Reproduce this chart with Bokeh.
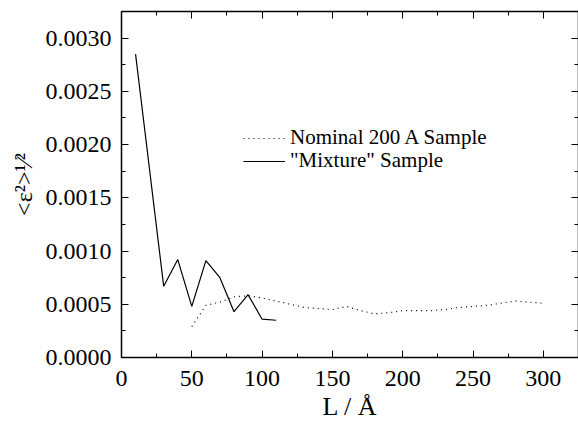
from bokeh.plotting import figure
from bokeh.models import (LinearAxis, SingleIntervalTicker, NumeralTickFormatter,
                          Range1d, Legend, LegendItem)
from bokeh.embed import file_html
from bokeh.resources import INLINE

# ---- data ----
mixture_L = [10, 30, 40, 50, 60, 70, 80, 90, 100, 110]
mixture_e = [0.00285, 0.00067, 0.00092, 0.00048, 0.00091, 0.00075, 0.00043,
             0.00059, 0.00036, 0.00035]

nominal_L = [50, 60, 70, 80, 90, 100, 110, 120, 130, 140, 150, 160, 170, 180,
             190, 200, 210, 220, 230, 240, 250, 260, 270, 280, 290, 300]
nominal_e = [0.00029, 0.00049, 0.00052, 0.00057, 0.00058, 0.00056, 0.00053,
             0.00050, 0.00047, 0.00046, 0.00045, 0.00048, 0.00044, 0.00041,
             0.00042, 0.00044, 0.00044, 0.00044, 0.00045, 0.00047, 0.00048,
             0.00049, 0.00051, 0.00053, 0.00052, 0.00051]

legend_labels = ["Nominal 200 A Sample", "\"Mixture\" Sample"]
x_label = "L / Å"
y_label = "<ε²>¹⁄²"

FONT = "Liberation Serif"

X_MAX, Y_MAX = 325, 0.00325
W, H = 578, 423

p = figure(width=W, height=H, output_backend="svg", toolbar_location=None,
           x_range=Range1d(0, X_MAX), y_range=Range1d(0, Y_MAX),
           min_border_left=121, min_border_right=0,
           min_border_top=11, min_border_bottom=66)
p.grid.visible = False
p.outline_line_color = None
p.background_fill_color = "white"
p.border_fill_color = "white"

bottom = p.below[0]
left = p.left[0]
bottom.ticker = SingleIntervalTicker(interval=50, num_minor_ticks=2)
left.ticker = SingleIntervalTicker(interval=0.0005, num_minor_ticks=2)
left.formatter = NumeralTickFormatter(format="0.0000")
bottom.axis_label = x_label
left.axis_label = y_label

top = LinearAxis(ticker=SingleIntervalTicker(interval=50, num_minor_ticks=2))
right = LinearAxis(ticker=SingleIntervalTicker(interval=0.0005, num_minor_ticks=2))
p.add_layout(top, "above")
p.add_layout(right, "right")

for ax in [bottom, left, top, right]:
    ax.axis_line_width = 1.5
    ax.axis_line_color = "black"
    ax.major_tick_in = 7
    ax.major_tick_out = 0
    ax.minor_tick_in = 4
    ax.minor_tick_out = 0
    ax.major_tick_line_color = "black"
    ax.minor_tick_line_color = "black"
    ax.major_label_text_font = FONT
    ax.major_label_text_font_size = "24px"
    ax.major_label_text_color = "black"
    ax.axis_label_text_font = FONT
    ax.axis_label_text_font_style = "normal"
    ax.axis_label_text_color = "black"

bottom.axis_label_text_font_size = "26px"
left.axis_label_text_font_size = "24px"
bottom.major_label_standoff = 13
bottom.axis_label_standoff = 3
left.major_label_standoff = 10
left.axis_label_standoff = 6

for ax in [top, right]:
    ax.major_label_text_font_size = "0px"
    ax.major_label_standoff = 0

# data lines
r_nom = p.line(nominal_L, nominal_e, line_color="black", line_width=1.2,
               line_dash="1 4")
r_mix = p.line(mixture_L, mixture_e, line_color="black", line_width=1.2)

common = dict(glyph_width=42, glyph_height=16, label_height=16,
              label_text_font=FONT, label_text_font_size="21px",
              label_text_color="black", label_standoff=5, padding=0, margin=0,
              spacing=0, border_line_color=None, background_fill_alpha=0)
leg1 = Legend(items=[LegendItem(label=legend_labels[0], renderers=[r_nom])],
              location=(122, 207), **common)
leg2 = Legend(items=[LegendItem(label=legend_labels[1], renderers=[r_mix])],
              location=(122, 184), **common)
p.add_layout(leg1, "center")
p.add_layout(leg2, "center")

open("out.html", "w").write(file_html(p, INLINE))
